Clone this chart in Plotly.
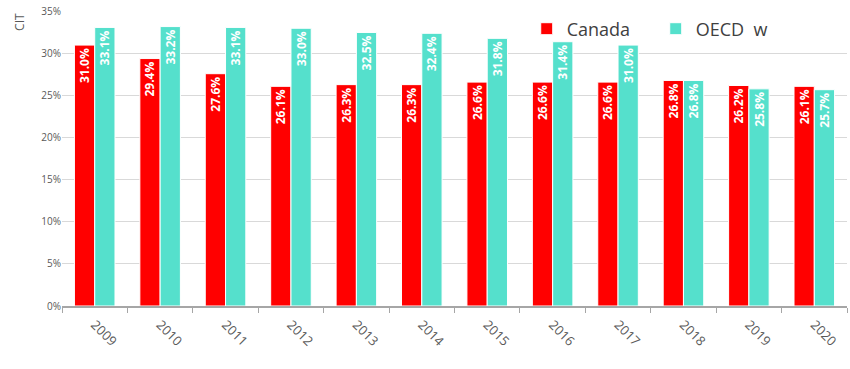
import plotly.graph_objects as go

years = ["2009", "2010", "2011", "2012", "2013", "2014", "2015", "2016", "2017", "2018", "2019", "2020"]
canada = [31.0, 29.4, 27.6, 26.1, 26.3, 26.3, 26.6, 26.6, 26.6, 26.8, 26.2, 26.1]
oecd = [33.1, 33.2, 33.1, 33.0, 32.5, 32.4, 31.8, 31.4, 31.0, 26.8, 25.8, 25.7]
yticks = [0, 5, 10, 15, 20, 25, 30, 35]
ytick_text = [f"{v}%" for v in yticks]

font = "Open Sans"

fig = go.Figure()
fig.add_trace(go.Bar(
    x=years, y=canada, name="Canada",
    marker=dict(color="#FF0000", line=dict(color="white", width=1)),
    text=[f"{v:.1f}%" for v in canada], textposition="inside",
    insidetextanchor="end", textangle=-90,
    textfont=dict(color="white", size=12, family=font, weight="bold"),
))
fig.add_trace(go.Bar(
    x=years, y=oecd, name="OECD  w",
    marker=dict(color="#55E0CC", line=dict(color="white", width=1)),
    text=[f"{v:.1f}%" for v in oecd], textposition="inside",
    insidetextanchor="end", textangle=-90,
    textfont=dict(color="white", size=12, family=font, weight="bold"),
))

fig.update_layout(
    width=850, height=369,
    margin=dict(l=62, r=3, t=11, b=63),
    plot_bgcolor="white", paper_bgcolor="white",
    barmode="group", bargap=0.38, bargroupgap=0.0,
    font=dict(family=font, color="#595959"),
    showlegend=True,
    legend=dict(orientation="h", x=0.592, y=0.939, xanchor="left", yanchor="middle",
                font=dict(size=18, color="#404040"), bgcolor="rgba(0,0,0,0)",
                entrywidth=84, entrywidthmode="pixels", traceorder="normal"),
    uniformtext=dict(mode="show", minsize=11),
    annotations=[dict(text="CIT", xref="paper", yref="paper", x=-0.0535, y=0.963,
                      xanchor="center", yanchor="middle", showarrow=False,
                      textangle=-90, font=dict(size=12, color="#595959"))],
)
fig.update_xaxes(
    automargin=False,
    showline=True, linecolor="#A6A6A6", linewidth=2,
    ticks="outside", tickson="boundaries", ticklen=5, tickcolor="#A6A6A6",
    tickangle=45, tickfont=dict(size=13, color="#595959"),
    ticklabelstandoff=4,
    showgrid=False,
)
fig.update_yaxes(
    automargin=False,
    range=[0, 35.05], tickvals=yticks, ticktext=ytick_text,
    showgrid=True, gridcolor="#D9D9D9", gridwidth=1,
    tickfont=dict(size=10, color="#595959"),
    zeroline=False,
)
# remove the browser's default 8px body margin so the figure fills the window
fig.write_html("out.html", config={"displayModeBar": False},
               post_script="document.body.style.margin='0';")
